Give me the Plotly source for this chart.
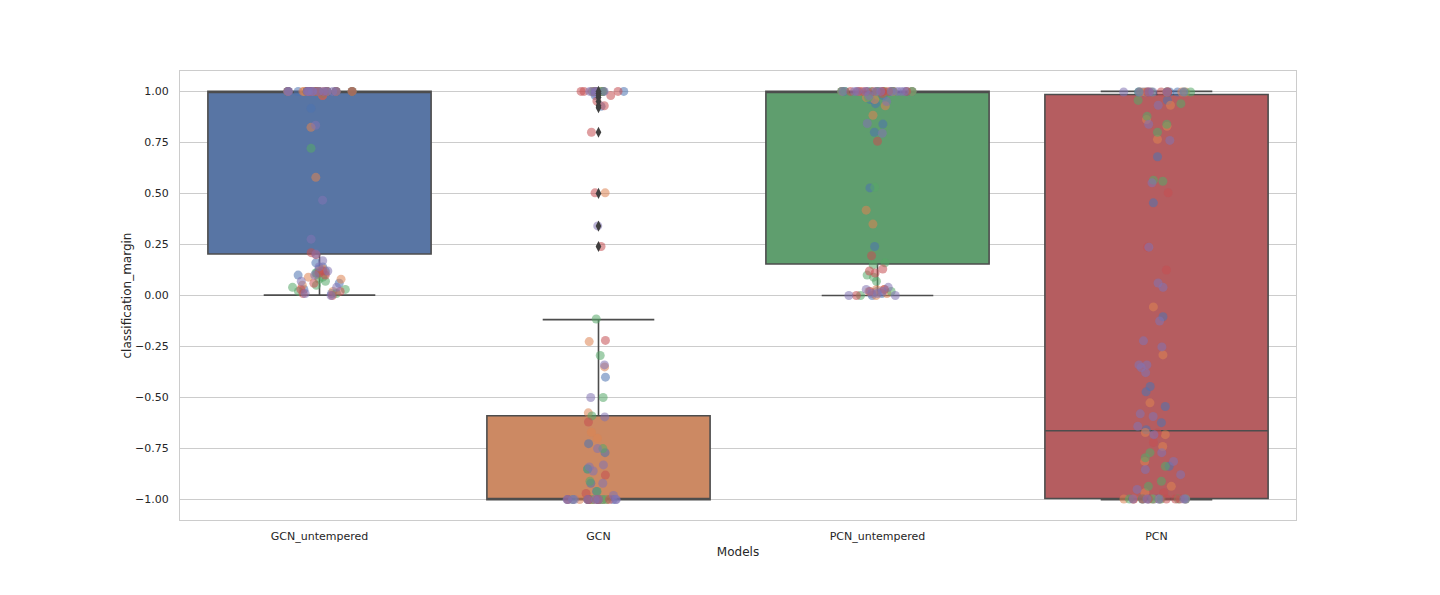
import plotly.graph_objects as go

# Models on the x axis
models = ["GCN_untempered", "GCN", "PCN_untempered", "PCN"]

# Box statistics
q1 = [0.203, -1.0, 0.154, -0.995]
median = [1.0, -1.0, 1.0, -0.663]
q3 = [1.0, -0.589, 1.0, 0.985]
lower_whisker = [0.002, -1.0, 0.0, -1.0]
upper_whisker = [1.0, -0.118, 1.0, 1.0]

box_colors = ["#5875A4", "#CC8963", "#5F9E6E", "#B55D60"]

# Outliers drawn by the boxplot (only GCN has some)
gcn_fliers = [1.0, 0.99, 0.98, 0.97, 0.95, 0.93, 0.92, 0.80, 0.50, 0.34, 0.24]

# Strip points, one list per hue group (5 groups)
hue_colors = ["#4C72B0", "#DD8452", "#55A868", "#C44E52", "#8172B3"]

gcn_untempered_pts = [
    [1.0] * 10 + [0.99, 0.917, 0.16, 0.13, 0.12, 0.11, 0.06, 0.03, 0.01, 0.10, 0.14],
    [1.0] * 10 + [0.98, 0.824, 0.579, 0.12, 0.11, 0.10, 0.09, 0.05, 0.13, 0.02, 0.08],
    [1.0] * 10 + [0.99, 0.721, 0.09, 0.07, 0.05, 0.04, 0.02, 0.01, 0.11, 0.08, 0.03],
    [1.0] * 12 + [0.98, 0.21, 0.20, 0.12, 0.10, 0.06, 0.03, 0.02, 0.01, 0.0, 0.11],
    [1.0] * 12 + [0.834, 0.467, 0.276, 0.203, 0.17, 0.14, 0.12, 0.10, 0.07, 0.04, 0.0, 0.01],
]

gcn_pts = [
    [1.0] * 4 + [0.98, 0.927, -0.40, -0.726, -0.77, -0.85, -0.92, -0.96] + [-1.0] * 6,
    [1.0] * 4 + [-0.226, -0.35, -0.575, -0.67, -0.70] + [-1.0] * 6 + [0.503],
    [1.0] * 4 + [-0.115, -0.294, -0.50, -0.59, -0.75, -0.85, -0.91, -0.96] + [-1.0] * 6,
    [1.0] * 4 + [0.953, 0.93, 0.98, 0.80, 0.503, 0.24, -0.22, -0.62, -0.88, -0.97] + [-1.0] * 6,
    [1.0] * 4 + [0.99, 0.341, -0.34, -0.50, -0.595, -0.75, -0.83, -0.84, -0.86, -0.92, -0.98] + [-1.0] * 8,
]

pcn_untempered_pts = [
    [1.0] * 8 + [0.98, 0.96, 0.94, 0.84, 0.80, 0.527, 0.24, 0.01, 0.02, 0.0],
    [1.0] * 7 + [0.97, 0.96, 0.93, 0.883, 0.418, 0.35, 0.03, 0.02, 0.0, 0.01, 0.03],
    [1.0] * 7 + [0.99, 0.97, 0.53, 0.16, 0.10, 0.09, 0.07, 0.02, 0.0, 0.15],
    [1.0] * 9 + [0.99, 0.756, 0.195, 0.13, 0.12, 0.11, 0.02, 0.03, 0.0],
    [1.0] * 10 + [0.98, 0.95, 0.843, 0.795, 0.04, 0.0, 0.01, 0.02, 0.0, 0.03, 0.01],
]

pcn_pts = [
    [0.997] * 5 + [0.956, 0.68, 0.454, -0.104, -0.446, -0.472, -0.544, -0.623, -0.658, -0.837] + [-0.997] * 4,
    [0.997] * 5 + [0.932, 0.862, 0.829, 0.765, -0.056, -0.291, -0.526, -0.671, -0.682, -0.74, -0.813, -0.935, -0.966] + [-0.997] * 5,
    [0.997] * 5 + [0.956, 0.94, 0.878, 0.839, 0.80, 0.565, 0.56, -0.77, -0.795, -0.837, -0.91, -0.935] + [-0.997] * 6,
    [0.997] * 5 + [0.503, 0.237, 0.125, -0.674, -0.72, -0.966] + [-0.997] * 6,
    [0.997] * 6 + [0.932, 0.839, 0.76, 0.552, 0.237, 0.061, 0.04, -0.125, -0.222, -0.252, -0.34, -0.34,
                   -0.353, -0.378, -0.58, -0.593, -0.641, -0.682, -0.77, -0.813, -0.853, -0.878, -0.95] + [-0.997] * 5,
]

points_by_model = [gcn_untempered_pts, gcn_pts, pcn_untempered_pts, pcn_pts]

edge = "#4D4D4D"

fig = go.Figure()

# Boxes (precomputed stats)
for i, m in enumerate(models):
    fig.add_trace(go.Box(
        x=[m],
        q1=[q1[i]], median=[median[i]], q3=[q3[i]],
        lowerfence=[lower_whisker[i]], upperfence=[upper_whisker[i]],
        fillcolor=box_colors[i],
        line=dict(color=edge, width=1.6),
        width=0.8,
        whiskerwidth=0.5,
        boxpoints=False,
        hoverinfo="skip",
        showlegend=False,
    ))

# Fliers
fig.add_trace(go.Scatter(
    x=["GCN"] * len(gcn_fliers),
    y=gcn_fliers,
    mode="markers",
    marker=dict(symbol="diamond-tall", size=8, color="#3F3F3F"),
    hoverinfo="skip",
    showlegend=False,
))

# Jittered strip points, one invisible box trace per hue group
for h, col in enumerate(hue_colors):
    xs, ys = [], []
    for i, m in enumerate(models):
        vals = points_by_model[i][h]
        xs += [m] * len(vals)
        ys += vals
    fig.add_trace(go.Box(
        x=xs, y=ys,
        boxpoints="all",
        jitter=0.33,
        pointpos=0,
        width=0.8,
        fillcolor="rgba(0,0,0,0)",
        line=dict(color="rgba(0,0,0,0)", width=0),
        whiskerwidth=0,
        marker=dict(color=col, size=9, opacity=0.55, line=dict(width=0)),
        hoverinfo="skip",
        showlegend=False,
    ))

# the page adds an 8px body margin, so the figure is a bit smaller than the window
fig.update_layout(
    width=1432,
    height=587,
    margin=dict(l=172, r=144, t=63, b=75),
    paper_bgcolor="white",
    plot_bgcolor="white",
    boxmode="overlay",
    showlegend=False,
    font=dict(family="DejaVu Sans", size=11, color="#262626"),
    xaxis=dict(
        type="category",
        categoryorder="array",
        categoryarray=models,
        range=[-0.5, 3.5],
        showgrid=False,
        showline=True, mirror=True, linecolor="#CCCCCC", linewidth=1,
        ticks="", ticklabelstandoff=6,
        title=dict(text="Models", font=dict(size=12), standoff=5),
        zeroline=False,
    ),
    yaxis=dict(
        range=[-1.1, 1.1],
        tickvals=[-1.0, -0.75, -0.5, -0.25, 0.0, 0.25, 0.5, 0.75, 1.0],
        ticktext=["\u22121.00", "\u22120.75", "\u22120.50", "\u22120.25", "0.00", "0.25", "0.50", "0.75", "1.00"],
        showgrid=True, gridcolor="#CCCCCC", gridwidth=1,
        showline=True, mirror=True, linecolor="#CCCCCC", linewidth=1,
        ticks="", ticklabelstandoff=8,
        zeroline=False,
        title=dict(text="classification_margin", font=dict(size=12), standoff=0),
    ),
)

fig.write_html("out.html")
